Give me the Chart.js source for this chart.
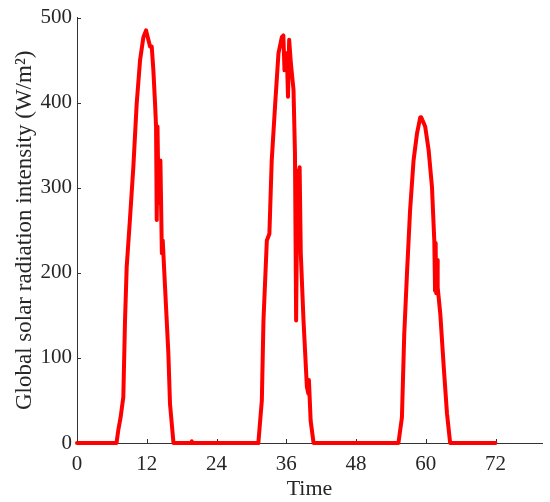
<!DOCTYPE html>
<html>
<head>
<meta charset="utf-8">
<script src="https://cdn.jsdelivr.net/npm/chart.js@4"></script>
<style>
    html, body { margin: 0; padding: 0; background: #fff; }
    #wrap { width: 550px; height: 502px; }
</style>
</head>
<body>
<div id="wrap"><canvas id="solarChart"></canvas></div>
<script>
// Time in hours and the radiation
const times = [
    0, 6.8, 7.1, 7.5, 7.97, 8.26, 8.55, 9.1, 9.69, 10.27, 10.85, 11.42, 11.88, 12.28, 12.57, 12.86,
    13.14, 13.43, 13.6, 13.72, 13.85, 14.0, 14.2, 14.35, 14.6, 14.75, 15.15, 15.72, 16.0, 16.6,
    19.6, 19.75, 19.9,
    31.2, 31.8, 32.08, 32.66, 33.1, 33.5, 34.1, 34.66, 35.24, 35.5, 35.7, 36.1, 36.3, 36.5, 36.8,
    37.25, 37.5, 37.7, 37.93, 38.17, 38.3, 38.5, 38.97, 39.55, 39.8, 39.9, 40.2, 40.7,
    55.3, 55.9, 56.3, 56.77, 57.3, 57.9, 58.5, 59.06, 59.2, 59.9, 60.5, 61.07, 61.47, 61.6, 61.7,
    61.8, 61.95, 62.05, 62.5, 63.1, 63.65, 64.2, 72
];
const radiation = [
    0, 0, 15, 30, 54, 144, 207, 262, 324, 399, 450, 477, 485, 474, 466, 466,
    438, 399, 372, 262, 372, 300, 282, 332, 223, 238, 183, 105, 46, 0,
    0, 2, 0,
    0, 50, 144, 238, 246, 332, 399, 458, 477, 479, 438, 458, 407, 474, 446,
    415, 340, 144, 320, 230, 324, 223, 144, 66, 58, 74, 26, 0,
    0, 30, 128, 199, 273, 332, 364, 383, 383, 372, 344, 301, 238, 179, 235,
    176, 215, 183, 152, 89, 35, 0, 0
];
const xTicks = [0, 12, 24, 36, 48, 60, 72];
const yTicks = [0, 100, 200, 300, 400, 500];

const axisColor = '#333333';
const textColor = '#262626';
const serif = '"Liberation Serif", "Times New Roman", serif';

// small ticks pointing into the plot, like the original
const inwardTicks = {
    id: 'inwardTicks',
    beforeDatasetsDraw(chart) {
        const ctx = chart.ctx;
        const xs = chart.scales.x, ys = chart.scales.y;
        const area = chart.chartArea;
        ctx.save();
        ctx.strokeStyle = axisColor;
        ctx.lineWidth = 1;
        ctx.beginPath();
        xTicks.forEach(function(t) {
            const px = Math.round(xs.getPixelForValue(t)) + 0.5;
            ctx.moveTo(px, area.bottom);
            ctx.lineTo(px, area.bottom - 4);
        });
        yTicks.forEach(function(t) {
            const py = Math.round(ys.getPixelForValue(t)) + 0.5;
            ctx.moveTo(area.left, py);
            ctx.lineTo(area.left + 4, py);
        });
        ctx.stroke();
        ctx.restore();
    }
};

const ctx = document.getElementById('solarChart').getContext('2d');
const solarChart = new Chart(ctx, {
    type: 'line',
    data: {
        datasets: [{
            data: times.map(function(t, i) { return { x: t, y: radiation[i] }; }),
            borderColor: '#ff0000',
            borderWidth: 4,
            pointRadius: 0,
            tension: 0,
            fill: false,
            clip: false,
            borderJoinStyle: 'round',
            borderCapStyle: 'round'
        }]
    },
    options: {
        responsive: true,
        maintainAspectRatio: false,
        animation: false,
        layout: { padding: { top: 17, right: 8, left: 11, bottom: 0 } },
        plugins: {
            legend: { display: false },
            tooltip: { enabled: false }
        },
        scales: {
            x: {
                type: 'linear',
                min: 0,
                max: 80,
                afterBuildTicks: function(scale) {
                    scale.ticks = xTicks.map(function(v) { return { value: v }; });
                },
                afterFit: function(scale) { scale.height = 59; },
                grid: { display: false, drawTicks: false },
                border: { display: true, color: axisColor, width: 1 },
                ticks: {
                    padding: 9,
                    color: textColor,
                    maxRotation: 0,
                    font: { family: serif, size: 21 }
                },
                title: {
                    display: true,
                    text: 'Time',
                    color: textColor,
                    padding: { top: 0, bottom: 0 },
                    font: { family: serif, size: 22 }
                }
            },
            y: {
                min: 0,
                max: 500,
                afterBuildTicks: function(scale) {
                    scale.ticks = yTicks.map(function(v) { return { value: v }; });
                },
                afterFit: function(scale) { scale.width = 66; },
                grid: { display: false, drawTicks: false },
                border: { display: true, color: axisColor, width: 1 },
                ticks: {
                    padding: 5,
                    color: textColor,
                    font: { family: serif, size: 21 }
                },
                title: {
                    display: true,
                    text: 'Global solar radiation intensity (W/m²)',
                    color: textColor,
                    padding: { top: 0, bottom: 0 },
                    font: { family: serif, size: 23 }
                }
            }
        }
    },
    plugins: [inwardTicks]
});
</script>
</body>
</html>
